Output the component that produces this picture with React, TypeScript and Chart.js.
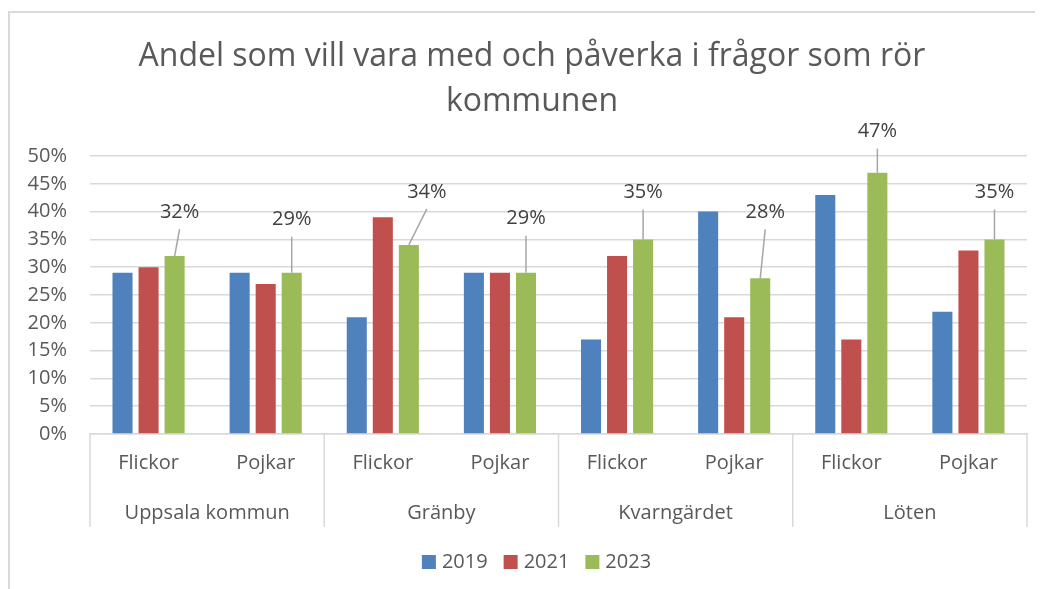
import React, { useEffect, useRef } from "react";
import { Chart, registerables } from "chart.js";

Chart.register(...registerables);

const titleLines = ["Andel som vill vara med och påverka i frågor som rör", "kommunen"];
const categories = ["Flickor", "Pojkar", "Flickor", "Pojkar", "Flickor", "Pojkar", "Flickor", "Pojkar"];
const groups = ["Uppsala kommun", "Gränby", "Kvarngärdet", "Löten"];
const seriesNames = ["2019", "2021", "2023"];
const values2019 = [29, 29, 21, 29, 17, 40, 43, 22];
const values2021 = [30, 27, 39, 29, 32, 21, 17, 33];
const values2023 = [32, 29, 34, 29, 35, 28, 47, 35];
const seriesColors = ["#4F81BD", "#C0504D", "#9BBB59"];
const yMin = 0;
const yMax = 50;
const yStep = 5;

// style: label placement (dx, dy from bar top, px) for the 2023 data labels
const labelOffsets2023 = [
  [5, -44], [0, -53], [18, -53], [0, -54], [0, -47], [5, -66], [0, -41], [0, -47],
];

const FONT = "'Open Sans', 'Noto Sans', sans-serif";
const TEXT = "#595959";
const GRID = "#d9d9d9";

const leaderLabels = {
  id: "leaderLabels",
  afterDatasetsDraw(chart: any) {
    const meta = chart.getDatasetMeta(2);
    const ctx = chart.ctx;
    ctx.save();
    meta.data.forEach((el: any, i: number) => {
      const v = chart.data.datasets[2].data[i];
      const [dx, dy] = labelOffsets2023[i] || [0, -30];
      const lx = el.x + dx;
      const ly = el.y + dy;
      ctx.strokeStyle = "#a6a6a6";
      ctx.lineWidth = 1.5;
      ctx.beginPath();
      ctx.moveTo(el.x, el.y);
      ctx.lineTo(lx, ly + 17);
      ctx.stroke();
      ctx.fillStyle = "#404040";
      ctx.font = `20px ${FONT}`;
      ctx.textAlign = "center";
      ctx.textBaseline = "middle";
      ctx.fillText(`${v}%`, lx, ly);
    });
    ctx.restore();
  },
};

const groupAxis = {
  id: "groupAxis",
  afterDraw(chart: any) {
    const x = chart.scales.x;
    const ctx = chart.ctx;
    const bottom = chart.chartArea.bottom;
    const half = (x.getPixelForValue(1) - x.getPixelForValue(0)) / 2;
    const per = categories.length / groups.length;
    ctx.save();
    ctx.strokeStyle = GRID;
    ctx.lineWidth = 1.5;
    for (let g = 0; g <= groups.length; g++) {
      const idx = Math.min(g * per, categories.length - 1);
      const px = g * per < categories.length ? x.getPixelForValue(idx) - half : x.getPixelForValue(idx) + half;
      ctx.beginPath();
      ctx.moveTo(px, bottom);
      ctx.lineTo(px, bottom + 93);
      ctx.stroke();
    }
    ctx.fillStyle = TEXT;
    ctx.font = `20px ${FONT}`;
    ctx.textAlign = "center";
    ctx.textBaseline = "middle";
    groups.forEach((name, g) => {
      const l = x.getPixelForValue(g * per) - half;
      const r = x.getPixelForValue(g * per + per - 1) + half;
      ctx.fillText(name, (l + r) / 2, bottom + 79);
    });
    ctx.restore();
  },
};

// Title and legend centred on the whole chart frame (as in the source)
const frameText = {
  id: "frameText",
  afterDraw(chart: any) {
    const ctx = chart.ctx;
    const cx = chart.width / 2 + 5.5;
    ctx.save();
    ctx.fillStyle = TEXT;
    ctx.textAlign = "center";
    ctx.textBaseline = "middle";
    ctx.font = `32px ${FONT}`;
    titleLines.forEach((line, i) => ctx.fillText(line, cx, 44 + i * 45));

    // legend
    ctx.font = `20px ${FONT}`;
    const box = 14, gap = 6, spacing = 16;
    const widths = seriesNames.map((n) => box + gap + ctx.measureText(n).width);
    const total = widths.reduce((a, b) => a + b, 0) + spacing * (seriesNames.length - 1);
    let x = chart.width / 2 + 10 - total / 2;
    const y = chart.chartArea.bottom + 128;
    ctx.textAlign = "left";
    seriesNames.forEach((n, i) => {
      ctx.fillStyle = seriesColors[i];
      ctx.fillRect(x, y - box / 2, box, box);
      ctx.fillStyle = TEXT;
      ctx.fillText(n, x + box + gap, y);
      x += widths[i] + spacing;
    });
    ctx.restore();
  },
};

export default function App() {
  const ref = useRef<HTMLCanvasElement | null>(null);
  useEffect(() => {
    if (!ref.current) return;
    const chart = new Chart(ref.current, {
      type: "bar",
      data: {
        labels: categories,
        datasets: seriesNames.map((name, i) => ({
          label: name,
          data: [values2019, values2021, values2023][i],
          backgroundColor: seriesColors[i],
        })),
      },
      options: {
        responsive: false,
        animation: false,
        devicePixelRatio: 1,
        layout: { padding: { left: 0, right: 16, top: 143, bottom: 53 } },
        datasets: { bar: { categoryPercentage: 0.667, barPercentage: 0.77 } } as any,
        plugins: {
          title: { display: false },
          legend: { display: false },
          tooltip: { enabled: false },
        },
        scales: {
          x: {
            grid: { display: false, drawTicks: false },
            border: { display: true, color: GRID, width: 1.5 },
            ticks: { color: TEXT, font: { family: FONT, size: 20, lineHeight: 1.2 }, padding: 17, maxRotation: 0, autoSkip: false },
            afterFit(scale: any) { scale.height = 102; },
          },
          y: {
            min: yMin,
            max: yMax,
            grid: { color: GRID, lineWidth: 1.5, drawTicks: false },
            border: { display: false },
            ticks: {
              stepSize: yStep,
              padding: 23,
              color: TEXT,
              font: { family: FONT, size: 20 },
              callback: (v: any) => `${v}%`,
            },
            afterFit(scale: any) { scale.width = 80; },
          },
        },
      },
      plugins: [leaderLabels, groupAxis, frameText],
    });
    return () => chart.destroy();
  }, []);
  return (
    <div style={{ paddingTop: 3 }}>
      <div style={{ borderLeft: `2px solid ${GRID}`, borderTop: `2px solid ${GRID}`, width: 1033, height: 576, overflow: "hidden" }}>
        <canvas ref={ref} width={1033} height={576} style={{ display: "block" }} />
      </div>
    </div>
  );
}
